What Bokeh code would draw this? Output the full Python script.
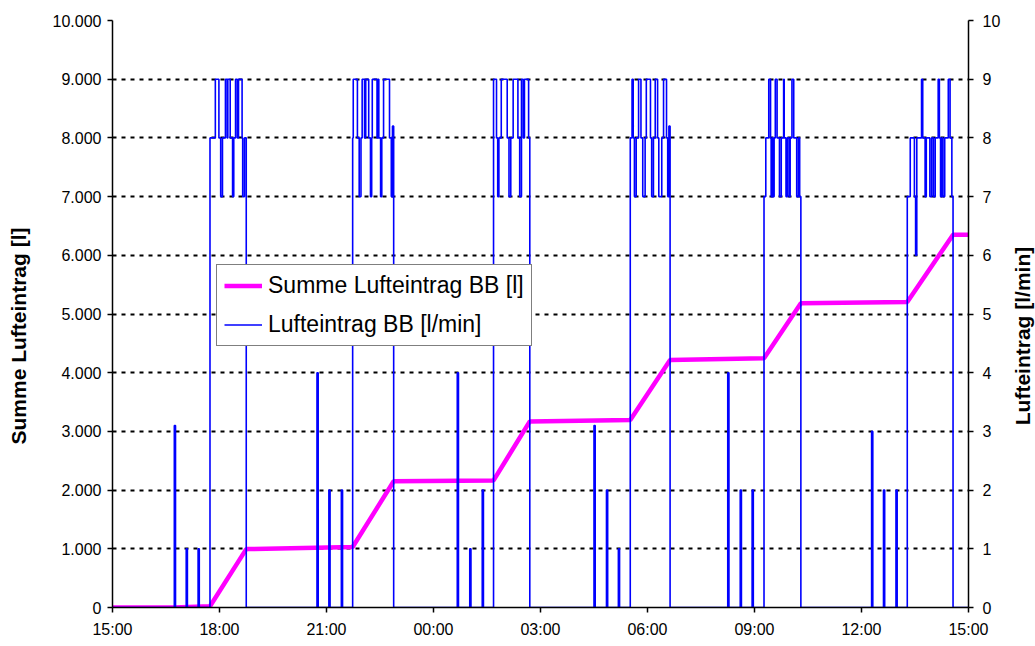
from bokeh.plotting import figure
from bokeh.layouts import row
from bokeh.models import (Range1d, LinearAxis, FixedTicker, Legend, LegendItem,
                          ColumnDataSource)
from bokeh.embed import file_html
from bokeh.resources import INLINE

# Time axis: minutes after 15:00, one full day
x_ticks = [0, 180, 360, 540, 720, 900, 1080, 1260, 1440]
x_tick_labels = ["15:00", "18:00", "21:00", "00:00", "03:00", "06:00", "09:00", "12:00", "15:00"]

# Left axis (cumulative air volume, litres)
sum_ticks = [0, 1000, 2000, 3000, 4000, 5000, 6000, 7000, 8000, 9000, 10000]
sum_tick_labels = ["0", "1.000", "2.000", "3.000", "4.000", "5.000",
                   "6.000", "7.000", "8.000", "9.000", "10.000"]

# Right axis (air flow, l/min)
flow_ticks = [0, 1, 2, 3, 4, 5, 6, 7, 8, 9, 10]

# Air flow BB [l/min], step values starting at each time
flow_t = [0,
          104, 106, 124, 126, 144, 146,
          164, 173, 179, 182, 185, 190, 193, 194, 198, 202, 204, 207, 210, 212, 218, 219, 222, 225,
          344, 346, 364, 366, 385, 387,
          404, 405, 412, 415, 418, 420, 424, 426, 431, 434, 436, 437, 445, 447, 448, 451, 453, 456,
          466, 469, 471, 473,
          580, 582, 601, 603, 622, 624,
          641, 646, 648, 650, 654, 664, 667, 670, 674, 682, 685, 688, 691, 693, 700, 702,
          810, 812, 831, 833, 851, 853,
          871, 874, 876, 878, 881, 885, 889, 892, 896, 898, 905, 907, 910, 913, 917, 919, 924, 927,
          932, 934, 936, 938,
          1035, 1037, 1056, 1058, 1076, 1078,
          1096, 1099, 1104, 1107, 1108, 1110, 1111, 1113, 1115, 1118, 1122, 1125, 1129, 1130, 1133,
          1135, 1138, 1140, 1143, 1146, 1151, 1154, 1156, 1158,
          1277, 1279, 1297, 1299, 1318, 1320,
          1337, 1342, 1349, 1351, 1353, 1361, 1363, 1367, 1369, 1375, 1378, 1381, 1384, 1389, 1391,
          1393, 1395, 1397, 1400, 1406, 1409, 1412, 1414,
          1440]
flow_v = [0,
          3.1, 0, 1, 0, 1, 0,
          8, 9, 8, 7, 8, 9, 8, 9, 8, 7, 8, 9, 8, 9, 8, 7, 8, 0,
          4, 0, 2, 0, 2, 0,
          8, 9, 8, 7, 8, 9, 8, 9, 8, 7, 8, 9, 8, 9, 8, 7, 8, 9,
          8, 7, 8.2, 0,
          4, 0, 1, 0, 2, 0,
          9, 8, 7, 8, 9, 8, 7, 8, 9, 8, 7, 9, 8, 9, 8, 0,
          3.1, 0, 2, 0, 1, 0,
          8, 9, 8, 7, 8, 9, 8, 7, 8, 9, 8, 7, 8, 9, 8, 7, 8, 9,
          8, 7, 8.2, 0,
          4, 0, 2, 0, 2, 0,
          7, 8, 9, 8, 7, 8, 7, 8, 9, 8, 7, 8, 9, 8, 7,
          8, 7, 8, 9, 8, 7, 8, 7, 0,
          3, 0, 2, 0, 2, 0,
          7, 8, 7, 6, 8, 9, 8, 7, 8, 7, 8, 7, 8, 9, 8,
          7, 8, 7, 8, 9, 8, 7, 0,
          0]

# Cumulative air input BB [l]
sum_t = [0, 104, 164, 225, 404, 473, 641, 702, 871, 938, 1096, 1158, 1337, 1414, 1440]
sum_v = [0, 0, 22, 995, 1030, 2150, 2165, 3170, 3195, 4215, 4245, 5185, 5205, 6350, 6350]

FONT = "Liberation Sans"
TITLE_SIZE = "21px"
H = 646
LEFT_W = 40          # strip holding the left axis title
RIGHT_W = 31         # strip holding the right axis title
MAIN_W = 1035 - LEFT_W - RIGHT_W

# Let the title strips keep their own frame edges when this Bokeh supports it
CAN_UNALIGN = "frame_align" in figure().properties()
STRIP_TOP, STRIP_BOTTOM = (64, 39) if CAN_UNALIGN else (20, 39)


def title_strip(width, text, axis_x):
    """Narrow empty panel whose left axis carries only a bold title (reads bottom-to-top)."""
    s = figure(width=width, height=H, output_backend="svg", toolbar_location=None,
               title=None, x_range=Range1d(0, 1), y_range=Range1d(0, 1),
               min_border_left=axis_x, min_border_right=width - axis_x - 1,
               min_border_top=STRIP_TOP, min_border_bottom=STRIP_BOTTOM)
    if CAN_UNALIGN:
        s.frame_align = False
    s.outline_line_color = None
    s.background_fill_color = "white"
    s.border_fill_color = "white"
    s.xaxis.visible = False
    s.grid.visible = False
    ax = s.yaxis[0]
    ax.axis_line_color = None
    ax.major_tick_line_color = None
    ax.minor_tick_line_color = None
    ax.major_tick_out = 0
    ax.major_label_standoff = 0
    ax.ticker = FixedTicker(ticks=[])
    ax.axis_label = text
    ax.axis_label_text_font = FONT
    ax.axis_label_text_font_style = "bold"
    ax.axis_label_text_font_size = TITLE_SIZE
    ax.axis_label_text_color = "black"
    ax.axis_label_standoff = 0
    return s


p = figure(width=MAIN_W, height=H, output_backend="svg", toolbar_location=None,
           title=None, x_range=Range1d(0, 1440), y_range=Range1d(0, 10000),
           min_border_left=112 - LEFT_W, min_border_right=36,
           min_border_top=20, min_border_bottom=39)
if CAN_UNALIGN:
    p.frame_align = False
p.outline_line_color = None
p.background_fill_color = "white"
p.border_fill_color = "white"

p.extra_y_ranges = {"flow": Range1d(0, 10)}

sum_src = ColumnDataSource(data=dict(t=sum_t, v=sum_v))
flow_src = ColumnDataSource(data=dict(t=flow_t, v=flow_v))

r_sum = p.line("t", "v", source=sum_src, line_color="#FF00FF", line_width=4.5)
r_flow = p.step("t", "v", source=flow_src, mode="after", y_range_name="flow",
                line_color="#0000FF", line_width=1.6)

# Grid: dotted horizontal lines only
p.xgrid.visible = False
p.ygrid.ticker = FixedTicker(ticks=sum_ticks)
p.ygrid.grid_line_color = "black"
p.ygrid.grid_line_dash = "4 5"
p.ygrid.grid_line_width = 2


def style_axis(ax):
    ax.axis_line_color = "black"
    ax.axis_line_width = 1.5
    ax.major_tick_line_color = "black"
    ax.major_tick_line_width = 1.5
    ax.major_tick_in = 0
    ax.major_tick_out = 5
    ax.minor_tick_line_color = None
    ax.major_label_text_font = FONT
    ax.major_label_text_font_size = "16px"
    ax.major_label_text_color = "black"


xax = p.xaxis[0]
style_axis(xax)
xax.ticker = FixedTicker(ticks=x_ticks)
xax.major_label_overrides = dict(zip(x_ticks, x_tick_labels))
xax.major_label_standoff = 8

yax = p.yaxis[0]
style_axis(yax)
yax.ticker = FixedTicker(ticks=sum_ticks)
yax.major_label_overrides = dict(zip(sum_ticks, sum_tick_labels))
yax.major_label_standoff = 6

rax = LinearAxis(y_range_name="flow", ticker=FixedTicker(ticks=flow_ticks))
style_axis(rax)
rax.major_label_standoff = 9
p.add_layout(rax, "right")

legend = Legend(items=[LegendItem(label="Summe Lufteintrag BB [l]", renderers=[r_sum]),
                       LegendItem(label="Lufteintrag BB [l/min]", renderers=[r_flow])],
                location=(104, 261))
legend.label_text_font = FONT
legend.label_text_font_size = "23px"
legend.label_text_color = "black"
legend.glyph_width = 38
legend.glyph_height = 25
legend.label_height = 25
legend.label_standoff = 6
legend.padding = 7
legend.spacing = 12
legend.margin = 0
legend.border_line_color = "black"
legend.border_line_width = 1
legend.background_fill_color = "white"
legend.background_fill_alpha = 1
p.add_layout(legend)

left_strip = title_strip(LEFT_W, "Summe Lufteintrag [l]", 29)
right_strip = title_strip(RIGHT_W, "Lufteintrag [l/min]", 29)

root = row(left_strip, p, right_strip, spacing=0)

open("out.html", "w").write(file_html(root, INLINE))
